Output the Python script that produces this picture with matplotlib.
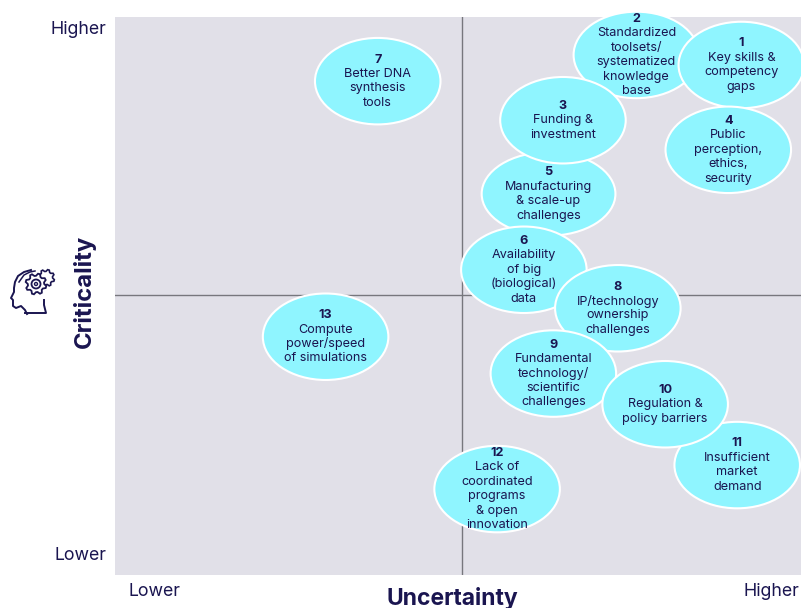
import matplotlib
matplotlib.use('Agg')
import matplotlib.pyplot as plt
import numpy as np
from matplotlib.patches import Ellipse, Circle, Polygon

NAVY = '#1a1550'
BG = '#e1e0e8'
BUBBLE = '#8ff5ff'

plt.rcParams['font.family'] = ['Inter', 'DejaVu Sans']

# scores, 0-100 on each axis, listed in drawing order
ids = [2, 1, 4, 5, 3, 7, 6, 13, 8, 9, 11, 10, 12]
uncertainty = [76.0, 91.3, 89.4, 63.2, 65.3, 38.3, 59.6, 30.7, 73.3, 63.9, 90.7, 80.2, 55.7]
criticality = [93.2, 91.4, 76.2, 68.3, 81.5, 88.5, 54.7, 42.7, 47.8, 36.1, 19.7, 30.6, 15.4]
labels = [
    ['Standardized', 'toolsets/', 'systematized', 'knowledge', 'base'],
    ['Key skills &', 'competency', 'gaps'],
    ['Public', 'perception,', 'ethics,', 'security'],
    ['Manufacturing', '& scale-up', 'challenges'],
    ['Funding &', 'investment'],
    ['Better DNA', 'synthesis', 'tools'],
    ['Availability', 'of big', '(biological)', 'data'],
    ['Compute', 'power/speed', 'of simulations'],
    ['IP/technology', 'ownership', 'challenges'],
    ['Fundamental', 'technology/', 'scientific', 'challenges'],
    ['Insufficient', 'market', 'demand'],
    ['Regulation &', 'policy barriers'],
    ['Lack of', 'coordinated', 'programs', '& open', 'innovation'],
]

fig = plt.figure(figsize=(8.01, 6.08), dpi=100)
ax = fig.add_axes([115 / 801, 1 - 575 / 608, 686 / 801, 558 / 608])
ax.set_facecolor(BG)
ax.set_xlim(0, 100)
ax.set_ylim(0, 100)
ax.set_xticks([])
ax.set_yticks([])
for s in ax.spines.values():
    s.set_visible(False)
ax.axvline(50.6, color='#77777d', lw=1, zorder=1)
ax.axhline(50.15, color='#77777d', lw=1, zorder=1)

LINE = 10.4  # points between text lines
for i, n in enumerate(ids):
    x, y = uncertainty[i], criticality[i]
    w = 19.5 if n == 5 else 18.3  # bubble 5 is stretched in the original
    h = 15.0 if n == 5 else 15.5
    ax.add_patch(Ellipse((x, y), w, h, fc=BUBBLE, ec='white', lw=1.5,
                         zorder=2 + i, clip_on=False))
    lines = [str(n)] + labels[i]
    top = (len(lines) - 1) * LINE / 2
    for j, t in enumerate(lines):
        ax.annotate(t, (x, y), xytext=(0, top - j * LINE), textcoords='offset points',
                    ha='center', va='center', fontsize=9.1, color=NAVY,
                    fontweight='bold' if j == 0 else 'normal', zorder=2.5 + i,
                    annotation_clip=False)

fig.text(78 / 801, 1 - 29 / 608, 'Higher', ha='center', va='center', fontsize=12.8, color=NAVY)
fig.text(81 / 801, 1 - 555 / 608, 'Lower', ha='center', va='center', fontsize=12.8, color=NAVY)
fig.text(154 / 801, 1 - 591 / 608, 'Lower', ha='center', va='center', fontsize=12.8, color=NAVY)
fig.text(771 / 801, 1 - 591 / 608, 'Higher', ha='center', va='center', fontsize=12.8, color=NAVY)
fig.text(452 / 801, 1 - 598 / 608, 'Uncertainty', ha='center', va='center', fontsize=16.5,
         fontweight='bold', color=NAVY)
fig.text(84 / 801, 1 - 291 / 608, 'Criticality', ha='center', va='center', rotation=90,
         fontsize=17.2, fontweight='bold', color=NAVY)

# head and gears icon, axes in pixel units of the picture
icon = fig.add_axes([8 / 801, 1 - 316 / 608, 50 / 801, 50 / 608])
icon.set_xlim(8, 58)
icon.set_ylim(316, 266)
icon.axis('off')
head_x = [31, 24, 18, 15, 14, 14, 11, 13, 13, 16, 21, 25, 27, 27]
head_y = [270, 272, 276, 282, 288, 292, 298, 300, 306, 308, 306, 310, 314, 314]
icon.plot(head_x, head_y, color=NAVY, lw=1.4)
icon.plot([25, 46, 44, 44], [313, 313, 305, 300], color=NAVY, lw=1.4)
icon.plot([19, 24, 30, 35], [282, 275, 272, 271], color=NAVY, lw=1.1)


def gear(cx, cy, r, teeth):
    ang = np.linspace(0, 2 * np.pi, teeth * 4, endpoint=False)
    rad = np.tile([r * 0.78, r, r, r * 0.78], teeth)
    return np.column_stack([cx + rad * np.cos(ang), cy + rad * np.sin(ang)])


icon.add_patch(Polygon(gear(46, 278, 8.5, 8), fc='white', ec=NAVY, lw=1.2))
icon.add_patch(Polygon(gear(36, 284, 10.5, 8), fc='white', ec=NAVY, lw=1.3))
icon.add_patch(Circle((36, 284), 4.5, fc='white', ec=NAVY, lw=1.3))
icon.add_patch(Circle((36, 284), 1.5, fc='white', ec=NAVY, lw=1.0))

fig.savefig('out.png', dpi=100)
